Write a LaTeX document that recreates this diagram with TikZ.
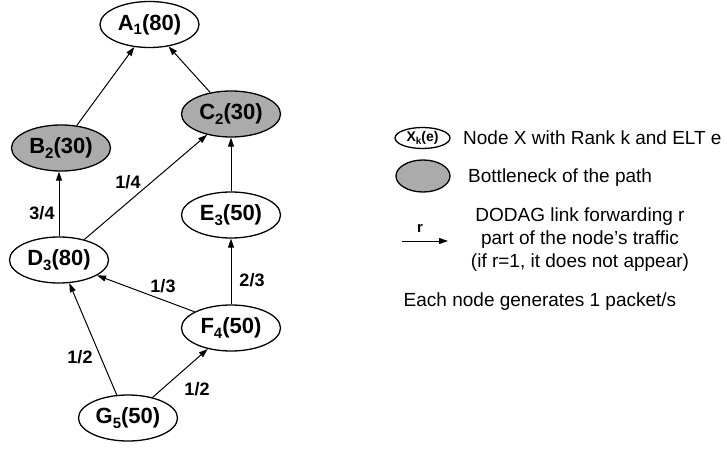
\documentclass[tikz,border=0pt]{standalone}
\usepackage{fontspec}
\setmainfont{Liberation Sans}
\usetikzlibrary{shapes.geometric,arrows.meta}
\newcommand\sbs[1]{\raisebox{-0.4ex}{\fontsize{15}{15}\selectfont #1}}
\newcommand\lsbs[1]{\raisebox{-0.4ex}{\fontsize{10}{10}\selectfont #1}}
\tikzset{
  nd/.style={ellipse,draw,line width=1.3pt,minimum width=99pt,minimum height=46pt,inner sep=0pt,
    font=\fontsize{22}{26}\selectfont\bfseries,fill=white},
  bn/.style={nd,fill=gray!66},
  ed/.style={line width=1pt,-{Triangle[length=9pt,width=6pt]}},
  lb/.style={font=\fontsize{18}{20}\selectfont\bfseries,inner sep=0pt},
  lg/.style={font=\fontsize{19}{23}\selectfont,inner sep=0pt}
}
\begin{document}
\begin{tikzpicture}[x=1pt,y=-1pt]
\useasboundingbox (0,0) rectangle (727,449);
\node[nd] (A) at (149.5,24.5) {A\sbs{1}(80)};
\node[bn] (B) at (61,148) {B\sbs{2}(30)};
\node[bn] (C) at (231,114) {C\sbs{2}(30)};
\node[nd] (D) at (59,260) {D\sbs{3}(80)};
\node[nd] (E) at (231,215) {E\sbs{3}(50)};
\node[nd] (F) at (231,328) {F\sbs{4}(50)};
\node[nd] (G) at (128,418) {G\sbs{5}(50)};
\draw[ed] (B.55) -- (A.236);
\draw[ed] (C.134) -- (A.311);
\draw[ed] (D.north) -- (D.north |- B.south);
\draw[ed] (D.39) -- (C.221);
\draw[ed] (E.north) -- (C.south);
\draw[ed] (F.north) -- (E.south);
\draw[ed] (F.156) -- (D.338);
\draw[ed] (G.116) -- (D.294);
\draw[ed] (G.40) -- (F.222);
\node[lb] (l1) at (128,182) {1/4};
\node[lb] (l2) at (42,213) {3/4};
\node[lb] (l3) at (163,286) {1/3};
\node[lb] (l4) at (252,280) {2/3};
\node[lb] (l5) at (80,357) {1/2};
\node[lb] (l6) at (197,389) {1/2};
% legend
\node[ellipse,draw,line width=1.3pt,minimum width=55pt,minimum height=21pt,inner sep=0pt,
  font=\fontsize{14}{15}\selectfont\bfseries] (kx) at (422.5,138) {X\lsbs{k}(e)};
\node[lg,anchor=west] (kxt) at (463,138) {Node X with Rank k and ELT e};
\node[ellipse,draw,line width=1.3pt,minimum width=54pt,minimum height=32pt,inner sep=0pt,fill=gray!66] (kb) at (423,176) {};
\node[lg,anchor=west] (kbt) at (468,178) {Bottleneck of the path};
\coordinate (ka) at (402,241);
\coordinate (kb2) at (448,241);
\draw[ed] (ka) -- (kb2);
\node[font=\fontsize{15}{16}\selectfont\bfseries,inner sep=0pt] (kr) at (420,228) {r};
\node[lg,align=center] (kat) at (580,240) {DODAG link forwarding r\\part of the node's traffic\\(if r=1, it does not appear)};
\node[lg] (each) at (540,302) {Each node generates 1 packet/s};
\end{tikzpicture}
\end{document}
